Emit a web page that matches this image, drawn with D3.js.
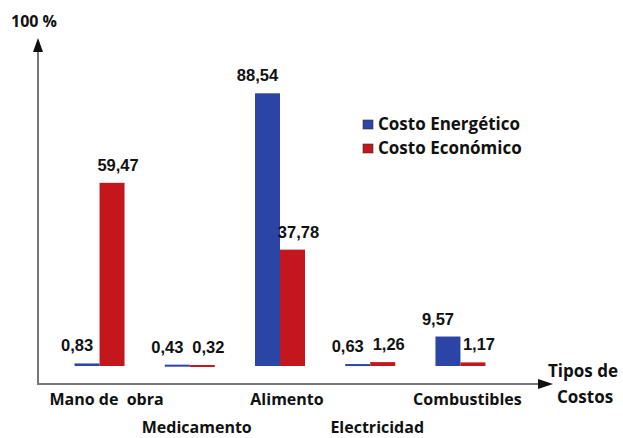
<!DOCTYPE html>
<html>
<head>
<meta charset="utf-8">
<script src="https://cdn.jsdelivr.net/npm/d3@7"></script>
<style>
  body { margin: 0; background: #fff; }
  svg text { font-family: "Open Sans", "Lato", sans-serif; font-weight: 700; fill: #111; white-space: pre; }
  svg text.val { font-family: "Liberation Sans", Arial, sans-serif; font-size: 16.5px; }
</style>
</head>
<body>
<svg id="chart" width="623" height="438"></svg>
<script>
const categories = ['Mano de  obra', 'Medicamento', 'Alimento', 'Electricidad', 'Combustibles'];
const series = ['Costo Energético', 'Costo Económico'];
const energetico = [0.83, 0.43, 88.54, 0.63, 9.57];
const economico = [59.47, 0.32, 37.78, 1.26, 1.17];
const colors = ['#2b45a6', '#c3161d'];

const svg = d3.select('#chart');

const x = d3.scaleBand()
  .domain(categories)
  .range([52, 508])
  .paddingInner(0.446)
  .paddingOuter(0.25);

const xs = d3.scaleBand()
  .domain(series)
  .range([0, x.bandwidth()]);

const y = d3.scaleLinear()
  .domain([0, 100])
  .range([366, 58]);

const rows = categories.map((c, i) => ({
  cat: c,
  vals: [energetico[i], economico[i]]
}));

// bars
const g = svg.selectAll('g.grp')
  .data(rows)
  .join('g')
    .attr('class', 'grp')
    .attr('transform', d => `translate(${x(d.cat)},0)`);

g.selectAll('rect')
  .data(d => d.vals.map((v, j) => ({ v, s: series[j], j })))
  .join('rect')
    .attr('x', d => xs(d.s))
    .attr('y', d => y(d.v))
    .attr('width', xs.bandwidth())
    .attr('height', d => Math.max(2, y(0) - y(d.v)))
    .attr('fill', d => colors[d.j]);

// value labels
g.selectAll('text.val')
  .data(d => d.vals.map((v, j) => ({ v, s: series[j], j })))
  .join('text')
    .attr('class', 'val')
    .attr('text-anchor', 'middle')
    .attr('x', d => xs(d.s) + xs.bandwidth() / 2 + (d.j === 0 ? -10 : 6))
    .attr('y', d => y(d.v) - 12)
    .text(d => d3.format('.2f')(d.v).replace('.', ','));

// axes
const axisColor = '#777';
svg.append('line')
  .attr('x1', 38).attr('x2', 38)
  .attr('y1', 50).attr('y2', 384)
  .attr('stroke', axisColor).attr('stroke-width', 2);
svg.append('line')
  .attr('x1', 37).attr('x2', 540)
  .attr('y1', 384).attr('y2', 384)
  .attr('stroke', axisColor).attr('stroke-width', 2);
svg.append('path')
  .attr('d', 'M38,38 L33,52 L43,52 Z')
  .attr('fill', '#111');
svg.append('path')
  .attr('d', 'M553,384 L538,379 L538,389 Z')
  .attr('fill', '#111');

svg.append('text')
  .attr('x', 11).attr('y', 27)
  .style('font-size', '16px')
  .text('100 %');

// category labels, alternating rows
svg.selectAll('text.cat')
  .data(categories)
  .join('text')
    .attr('class', 'cat')
    .attr('text-anchor', 'middle')
    .attr('x', d => x(d) + x.bandwidth() / 2 + 7)
    .attr('y', (d, i) => i % 2 === 0 ? 405 : 433)
    .style('font-size', '16px')
    .text(d => d);

svg.append('text')
  .attr('x', 548).attr('y', 377)
  .style('font-size', '17px')
  .text('Tipos de');
svg.append('text')
  .attr('x', 557).attr('y', 403)
  .style('font-size', '17px')
  .text('Costos');

// legend
const lg = svg.append('g').attr('transform', 'translate(363,117)');
const li = lg.selectAll('g')
  .data(series)
  .join('g')
    .attr('transform', (d, i) => `translate(0,${i * 24})`);
li.append('rect')
  .attr('width', 10).attr('height', 9).attr('y', 3)
  .attr('fill', (d, i) => colors[i])
  .attr('stroke', '#333').attr('stroke-width', 0.6);
li.append('text')
  .attr('x', 15).attr('y', 13)
  .style('font-size', '17px')
  .text(d => d);
</script>
</body>
</html>
